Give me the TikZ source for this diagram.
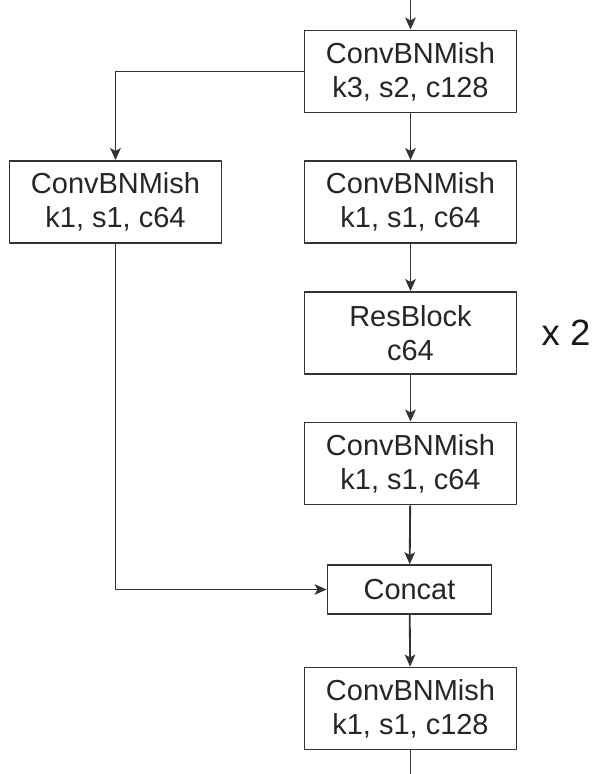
\documentclass[tikz,border=0pt]{standalone}
\usepackage{fontspec}
\setmainfont{Liberation Sans}
\usetikzlibrary{arrows.meta}
\begin{document}
\begin{tikzpicture}[x=0.025cm, y=-0.025cm, line join=round, >={Stealth[length=8.5pt, width=7.5pt, inset=2pt]},
		box/.style={draw=black!80, line width=1.3pt, minimum width=5.3cm, minimum height=2.05cm, align=center, text=black!85, font=\fontsize{20.6}{24.2}\selectfont},
		catbox/.style={box, minimum width=4.1cm, minimum height=1.22cm},
		link/.style={draw=black!80, line width=1.3pt}]
			\useasboundingbox (0,0) rectangle (598,774);
			\coordinate (in) at (410.5,0);
			\coordinate (out) at (410.5,774);
			\node[box] (b1) at (410.5,71.5) {ConvBNMish\\k3, s2, c128};
			\node[box] (bl) at (115.5,202) {ConvBNMish\\k1, s1, c64};
			\node[box] (b2) at (410.5,202) {ConvBNMish\\k1, s1, c64};
			\node[box] (rb) at (410.5,333) {ResBlock\\c64};
			\node[box] (b4) at (410.5,463.5) {ConvBNMish\\k1, s1, c64};
			\node[catbox] (cat) at (409.5,589.5) {Concat};
			\node[box] (b5) at (410.5,708.5) {ConvBNMish\\k1, s1, c128};
			\node[text=black!90, font=\fontsize{26}{30}\selectfont] (rep) at (566,333) {x 2};
			% Pfeile
			\draw[link, ->] (in)--(b1);
			\draw[link, ->] (b1)--(b2);
			\draw[link, ->] (b2)--(rb);
			\draw[link, ->] (rb)--(b4);
			\draw[link, ->] (b4)--(cat);
			\draw[link, ->] (cat)--(b5);
			\draw[link] (b5)--(out);
			\draw[link, ->] (b1.west)-|(bl.north);
			\draw[link, ->] (bl.south)|-(cat.west);
		\end{tikzpicture}
\end{document}
